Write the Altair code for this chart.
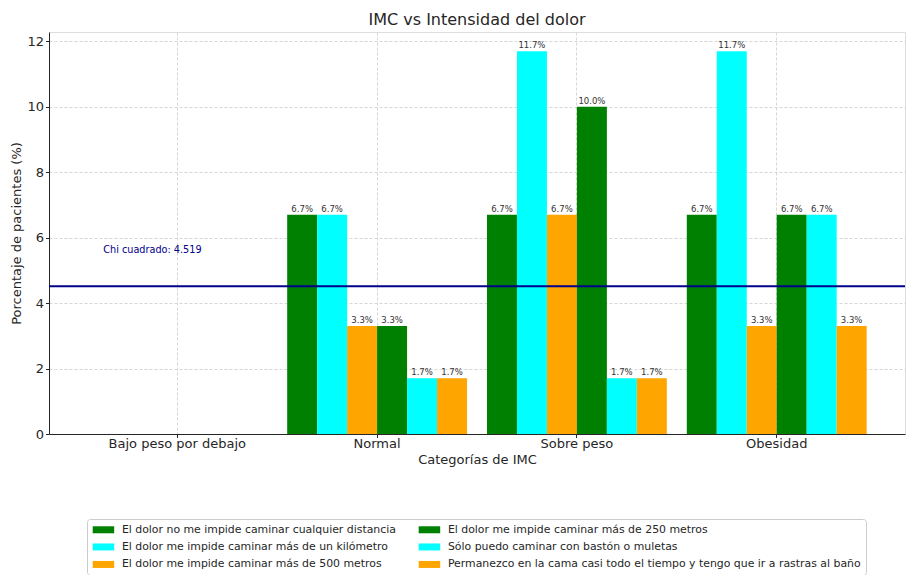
import altair as alt
import pandas as pd

categories = ["Bajo peso por debajo", "Normal", "Sobre peso", "Obesidad"]
series = [
    "El dolor no me impide caminar cualquier distancia",
    "El dolor me impide caminar más de un kilómetro",
    "El dolor me impide caminar más de 500 metros",
    "El dolor me impide caminar más de 250 metros",
    "Sólo puedo caminar con bastón o muletas",
    "Permanezco en la cama casi todo el tiempo y tengo que ir a rastras al baño",
]
series_colors = ["#008000", "#00FFFF", "#FFA500", "#008000", "#00FFFF", "#FFA500"]
values = {
    "Bajo peso por debajo": [0, 0, 0, 0, 0, 0],
    "Normal": [6.7, 6.7, 3.3, 3.3, 1.7, 1.7],
    "Sobre peso": [6.7, 11.7, 6.7, 10.0, 1.7, 1.7],
    "Obesidad": [6.7, 11.7, 3.3, 6.7, 6.7, 3.3],
}
chi_value = 4.519

rows = []
for c in categories:
    for s, v in zip(series, values[c]):
        rows.append({"cat": c, "serie": s, "valor": v, "etiqueta": f"{v:.1f}%"})
df = pd.DataFrame(rows)

FONT = "DejaVu Sans"
TXT = "#262626"

x_enc = alt.X("cat:N", sort=categories, title="Categorías de IMC",
              scale=alt.Scale(paddingInner=0.1, paddingOuter=0.192),
              axis=alt.Axis(labelAngle=0, grid=True, bandPosition=0.5,
                            gridDash=[3, 2], gridColor="#d6d6d6",
                            tickSize=3.5, tickColor=TXT, domainColor=TXT,
                            labelFontSize=13, titleFontSize=13,
                            labelPadding=0, titlePadding=3,
                            labelColor=TXT, titleColor=TXT,
                            labelFont=FONT, titleFont=FONT,
                            titleFontWeight="normal"))
xoff = alt.XOffset("serie:N", sort=series,
                   scale=alt.Scale(domain=series, paddingInner=0, paddingOuter=0))
y_scale = alt.Scale(domain=[0, 12.285], nice=False)

bars = alt.Chart(df).mark_bar().encode(
    x=x_enc,
    xOffset=xoff,
    y=alt.Y("valor:Q", scale=y_scale, title="Porcentaje de pacientes (%)",
            axis=alt.Axis(values=[0, 2, 4, 6, 8, 10, 12], grid=True,
                          gridDash=[3, 2], gridColor="#d6d6d6",
                          tickSize=3.5, tickColor=TXT, domainColor=TXT,
                          labelFontSize=13, titleFontSize=13,
                          labelPadding=2, titlePadding=3,
                          labelColor=TXT, titleColor=TXT,
                          labelFont=FONT, titleFont=FONT,
                          titleFontWeight="normal")),
    color=alt.Color("serie:N", title=None,
                    scale=alt.Scale(domain=series, range=series_colors),
                    legend=alt.Legend(orient="none", legendX=38, legendY=487,
                                      columns=2, columnPadding=22, rowPadding=5.5,
                                      symbolType="M-2.15,-0.7L2.15,-0.7L2.15,0.7L-2.15,0.7Z",
                                      symbolSize=100, symbolOffset=6,
                                      symbolStrokeWidth=0, symbolOpacity=1,
                                      labelOffset=13, labelFontSize=10.9,
                                      labelFont=FONT, labelColor=TXT, labelLimit=600,
                                      strokeColor="#cccccc", cornerRadius=3,
                                      padding=5, fillColor="white")),
)

labels = alt.Chart(df).transform_filter("datum.valor > 0").mark_text(
    baseline="bottom", dy=-1, fontSize=8.5, font=FONT, color="#333333"
).encode(
    x=alt.X("cat:N", sort=categories),
    xOffset=xoff,
    y=alt.Y("valor:Q", scale=y_scale),
    text="etiqueta:N",
)

chi_df = pd.DataFrame({"chi": [chi_value], "cat": [categories[0]],
                       "texto": [f"Chi cuadrado: {chi_value}"]})

rule = alt.Chart(chi_df).mark_rule(color="#00008B", strokeWidth=2).encode(
    y=alt.Y("chi:Q", scale=y_scale)
)

chi_text = alt.Chart(chi_df).transform_calculate(ypos="datum.chi + 1").mark_text(
    align="left", baseline="alphabetic", dx=-74, fontSize=9.7, font=FONT,
    color="#00008B"
).encode(
    x=alt.X("cat:N", sort=categories),
    y=alt.Y("ypos:Q", scale=y_scale),
    text="texto:N",
)

chart = alt.layer(bars, labels, rule, chi_text).properties(
    width=856, height=402,
    title=alt.TitleParams("IMC vs Intensidad del dolor", fontSize=16,
                          font=FONT, fontWeight="normal", color=TXT,
                          anchor="middle", offset=4),
    autosize=alt.AutoSizeParams(type="none"),
    padding={"left": 49, "top": 32, "right": 2, "bottom": 141},
).configure_view(stroke=None).configure(background="white")

chart.save("out.html", embed_options={"renderer": "svg", "actions": False})
